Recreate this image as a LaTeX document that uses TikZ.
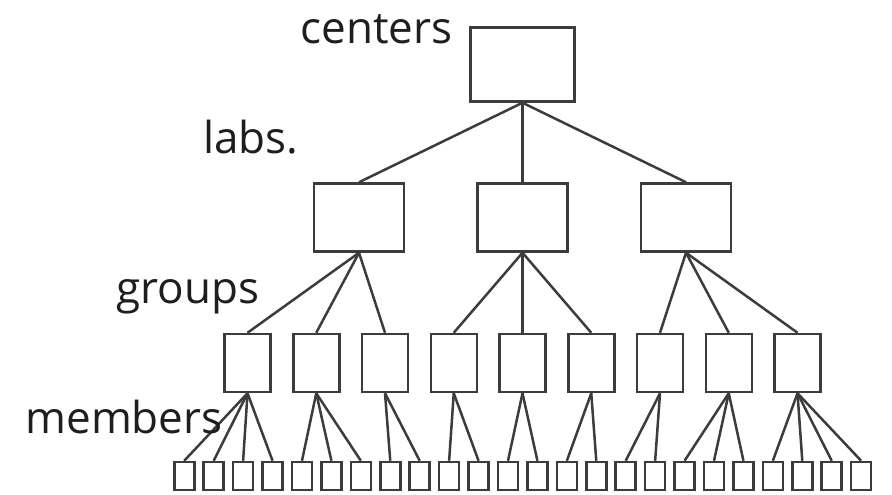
\documentclass[tikz,border=0pt]{standalone}
\usepackage{fontspec}
\setmainfont{Open Sans}
\usepackage{xcolor}
\usepackage{tikz}
\definecolor{edge}{HTML}{3C3C3C}
\definecolor{ink}{HTML}{1E1E1E}

\begin{document}
\begin{tikzpicture}[
  x=0.5pt, y=-0.5pt,
  box/.style={draw=edge, line width=1.25pt, fill=white, inner sep=0pt},
  center/.style={box, minimum width=52pt, minimum height=37pt},
  lab/.style={box, minimum width=45pt, minimum height=34pt},
  grp/.style={box, minimum width=23pt, minimum height=29pt},
  mem/.style={box, minimum width=10pt, minimum height=14pt},
  level/.style={font=\fontsize{22}{26}\selectfont, text=ink, inner sep=0pt, anchor=base west},
  link/.style={draw=edge, line width=1.25pt},
]
\useasboundingbox (0,0) rectangle (892,494);

% the four levels
\node[center] (c) at (522.5,64.5) {};
\foreach \i/\x in {1/359, 2/522.5, 3/686}
  \node[lab] (l\i) at (\x,217.5) {};
\foreach \i in {1,...,9}
  \node[grp] (g\i) at ({247.5+68.75*(\i-1)},363) {};
\foreach \i in {1,...,24}
  \node[mem] (m\i) at ({184.25+29.43*(\i-1)},476) {};

% links
\foreach \i in {1,2,3}
  \draw[link] (c.south) -- (l\i.north);
\foreach \l/\a/\b in {1/1/3, 2/4/6, 3/7/9}
  \foreach \g in {\a,...,\b}
    \draw[link] (l\l.south) -- (g\g.north);
\foreach \g/\a/\b in {1/1/4, 2/5/7, 3/8/9, 4/10/11, 5/12/13, 6/14/15, 7/16/17, 8/18/20, 9/21/24}
  \foreach \m in {\a,...,\b}
    \draw[link] (g\g.south) -- (m\m.north);

% level names
\node[level] (tc) at (300,43) {centers};
\node[level] (tl) at (203,153) {labs.};
\node[level] (tg) at (116,303) {groups};
\node[level] (tm) at (25,433) {members};
\end{tikzpicture}
\end{document}
